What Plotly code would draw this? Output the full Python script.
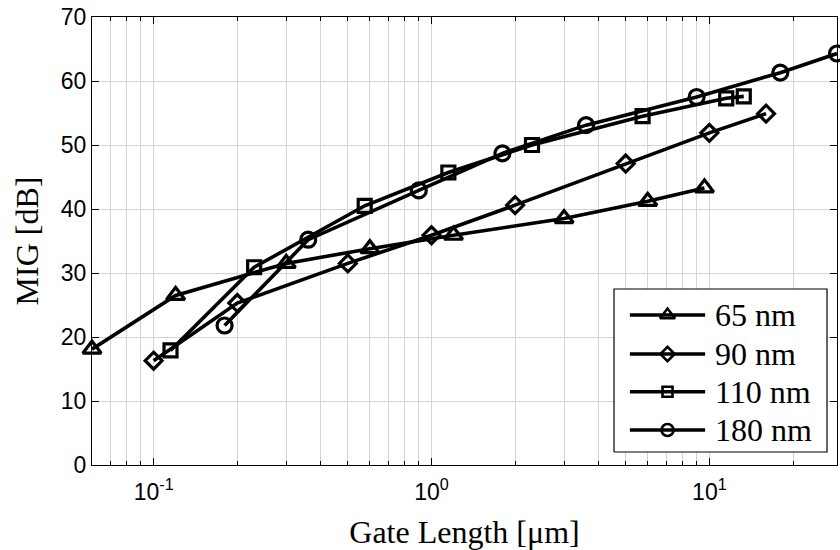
import numpy as np
import plotly.graph_objects as go

# ---- data ----
series_names = ["65 nm", "90 nm", "110 nm", "180 nm"]

x_65 = [0.06, 0.12, 0.30, 0.60, 1.2, 3.0, 6.0, 9.6]
y_65 = [18.1, 26.5, 31.5, 33.8, 35.9, 38.5, 41.2, 43.3]

x_90 = [0.10, 0.20, 0.50, 1.0, 2.0, 5.0, 10.0, 16.0]
y_90 = [16.3, 25.3, 31.5, 35.9, 40.6, 47.1, 51.9, 54.9]

x_110 = [0.115, 0.23, 0.575, 1.15, 2.3, 5.75, 11.5, 13.3]
y_110 = [17.9, 30.9, 40.5, 45.7, 50.0, 54.5, 57.3, 57.6]

x_180 = [0.18, 0.36, 0.90, 1.8, 3.6, 9.0, 18.0, 28.8]
y_180 = [21.8, 35.2, 42.9, 48.7, 53.1, 57.5, 61.3, 64.3]

x_tickvals = [0.1, 1, 10]
x_ticktext = ["10<sup>-1</sup>", "10<sup>0</sup>", "10<sup>1</sup>"]
x_minorvals = [0.07, 0.08, 0.09, 0.2, 0.3, 0.4, 0.5, 0.6, 0.7, 0.8, 0.9,
               2, 3, 4, 5, 6, 7, 8, 9, 20]
y_tickvals = [0, 10, 20, 30, 40, 50, 60, 70]

symbols = ["triangle-up-open", "diamond-open", "square-open", "circle-open"]
sizes = [16, 13, 13, 15]
leg_sizes = [13, 11, 10, 12]

xs = [x_65, x_90, x_110, x_180]
ys = [y_65, y_90, y_110, y_180]

LW = 3.6

fig = go.Figure()
for name, xv, yv, sym, sz in zip(series_names, xs, ys, symbols, sizes):
    fig.add_trace(go.Scatter(
        x=xv, y=yv, mode="lines+markers", name=name, showlegend=False,
        line=dict(color="black", width=LW),
        marker=dict(symbol=sym, size=sz, color="black", line=dict(width=3.2, color="black")),
        cliponaxis=False,
    ))

# ---- custom legend drawn on an overlay axis (0..1 = plot area) ----
box_x = [0.7007, 0.9866, 0.9866, 0.7007, 0.7007]
box_y = [0.029, 0.029, 0.3929, 0.3929, 0.029]
fig.add_trace(go.Scatter(x=box_x, y=box_y, xaxis="x2", yaxis="y2", mode="lines",
                         fill="toself", fillcolor="white",
                         line=dict(color="black", width=1.2), showlegend=False,
                         hoverinfo="skip"))
leg_y = [0.3348, 0.2478, 0.1636, 0.0781]
for name, sym, sz, ly in zip(series_names, symbols, leg_sizes, leg_y):
    fig.add_trace(go.Scatter(x=[0.722, 0.823], y=[ly, ly], xaxis="x2", yaxis="y2",
                             mode="lines", line=dict(color="black", width=LW),
                             showlegend=False, hoverinfo="skip"))
    fig.add_trace(go.Scatter(x=[0.7725], y=[ly], xaxis="x2", yaxis="y2",
                             mode="markers",
                             marker=dict(symbol=sym, size=sz, color="black",
                                         line=dict(width=2.6, color="black")),
                             showlegend=False, hoverinfo="skip"))
    fig.add_annotation(x=0.8336, y=ly, xref="paper", yref="paper", text=name,
                       showarrow=False, xanchor="left", yanchor="middle",
                       font=dict(family="Liberation Serif", size=32, color="black"))

grid_c = "#d4d4d4"
fig.update_layout(
    width=840, height=550,
    margin=dict(l=92, r=3, t=17, b=85),
    paper_bgcolor="white", plot_bgcolor="white",
    showlegend=False,
    xaxis=dict(
        type="log", range=[np.log10(0.06), np.log10(28.8)],
        tickmode="array", tickvals=x_tickvals, ticktext=x_ticktext,
        ticks="inside", ticklen=7, tickwidth=1, tickcolor="black",
        showline=True, linecolor="black", linewidth=1.2, mirror="ticks",
        showgrid=True, gridcolor=grid_c, gridwidth=1,
        minor=dict(tickvals=x_minorvals, ticks="inside", ticklen=4,
                   tickcolor="black", showgrid=True, gridcolor=grid_c, gridwidth=1),
        tickfont=dict(family="Liberation Sans", size=23, color="black"),
        ticklabelstandoff=6,
        title=dict(text="Gate Length [μm]", standoff=16,
                   font=dict(family="Liberation Serif", size=32, color="black")),
        zeroline=False, automargin=False,
    ),
    yaxis=dict(
        range=[0, 70], tickmode="array", tickvals=y_tickvals,
        ticks="inside", ticklen=7, tickwidth=1, tickcolor="black",
        showline=True, linecolor="black", linewidth=1.2, mirror="ticks",
        showgrid=True, gridcolor=grid_c, gridwidth=1,
        tickfont=dict(family="Liberation Sans", size=23, color="black"),
        title=dict(text="MIG [dB]", standoff=12,
                   font=dict(family="Liberation Serif", size=32, color="black")),
        zeroline=False, automargin=False,
    ),
    xaxis2=dict(overlaying="x", range=[0, 1], visible=False, domain=[0, 1],
                fixedrange=True),
    yaxis2=dict(overlaying="y", range=[0, 1], visible=False, domain=[0, 1],
                fixedrange=True),
)

fig.write_html("out.html")
